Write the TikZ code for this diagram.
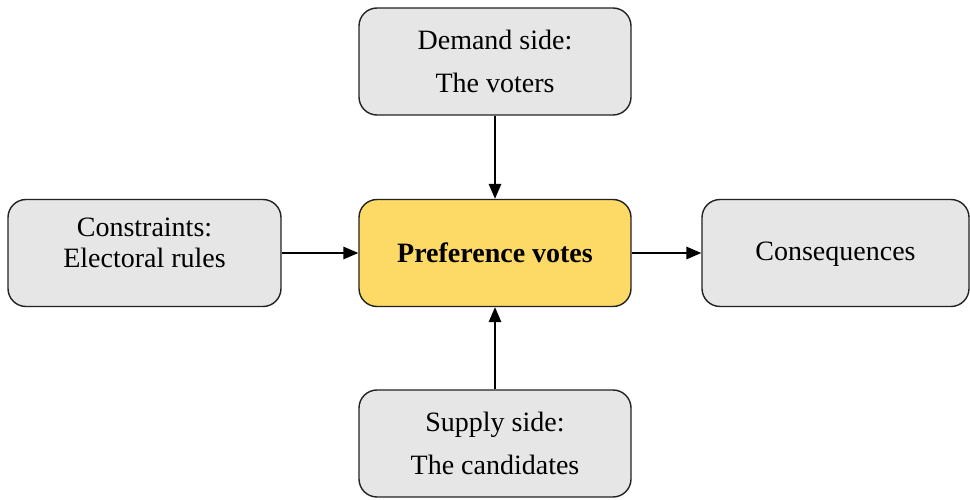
\documentclass[tikz,border=0pt]{standalone}
\usepackage{fontspec}
\setmainfont{Liberation Serif}
\usetikzlibrary{arrows.meta}
\definecolor{boxgrey}{HTML}{E6E6E6}
\definecolor{boxyellow}{HTML}{FDD966}
\definecolor{edge}{HTML}{222222}
\begin{document}
\begin{tikzpicture}[x=1pt,y=-1pt,
  box/.style={draw=edge, line width=1.4pt, rounded corners=18pt, fill=boxgrey,
    minimum width=#1, minimum height=107pt, align=center, inner sep=0pt,
    font=\fontsize{28}{31}\selectfont},
  box/.default=272pt,
  link/.style={-{Triangle[length=15pt,width=12.5pt]}, line width=1.6pt, draw=black}]
\useasboundingbox (0,0) rectangle (970,500);
\node[box] (demand) at (495,61.5) {Demand side:\\[12pt]The voters};
\node[box=273pt] (constr) at (144.5,253) {};
\node[align=center, inner sep=0pt, font=\fontsize{28}{31}\selectfont] (constrtxt) at (144.5,243) {Constraints:\\Electoral rules};
\node[box, fill=boxyellow, font=\fontsize{28}{31}\selectfont\bfseries] (pref) at (495,253) {Preference votes};
\node[box=267pt] (cons) at (835.5,253) {};
\node[inner sep=0pt, font=\fontsize{28}{31}\selectfont] (constxt) at (835.5,254) {Consequences};
\node[box] (supply) at (495,443.5) {Supply side:\\[12pt]The candidates};
\draw[link] (demand) -- (pref);
\draw[link] (supply) -- (pref);
\draw[link] (constr) -- (pref);
\draw[link] (pref) -- (cons);
\end{tikzpicture}
\end{document}
